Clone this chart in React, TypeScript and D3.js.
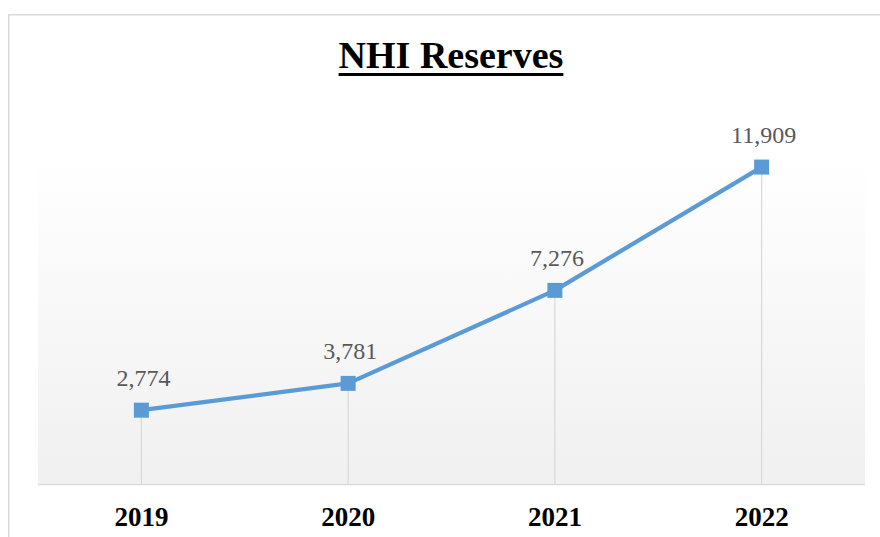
import React, { useLayoutEffect, useRef, useState } from "react";
import * as d3 from "d3";

const categories: string[] = ["2019", "2020", "2021", "2022"];
const reserves: number[] = [2774, 3781, 7276, 11909];
const title = "NHI Reserves";

const W = 880;
const H = 537;
const plot = { left: 38, right: 865, top: 158, bottom: 484 };

export default function App() {
  const titleRef = useRef<SVGTextElement>(null);
  const [ul, setUl] = useState<{ x: number; w: number } | null>(null);
  useLayoutEffect(() => {
    if (titleRef.current) {
      const b = titleRef.current.getBBox();
      setUl({ x: b.x, w: b.width });
    }
  }, []);

  const x = d3
    .scaleBand<string>()
    .domain(categories)
    .range([plot.left, plot.right])
    .padding(0);
  const y = d3.scaleLinear().domain([0, 12250]).range([plot.bottom, plot.top]);
  const cx = (c: string) => (x(c) as number) + x.bandwidth() / 2;
  const pts = categories.map((c, i) => ({ c, v: reserves[i] }));
  const line = d3
    .line<{ c: string; v: number }>()
    .x((d) => cx(d.c))
    .y((d) => y(d.v));
  const fmt = d3.format(",");
  const serif = "'Liberation Serif', 'Times New Roman', serif";
  const ms = 15;

  return (
    <div style={{ position: "fixed", left: 0, top: 0, width: W, height: H, background: "#fff" }}>
      <svg width={W} height={H} style={{ display: "block" }}>
        <defs>
          <linearGradient id="pa" x1="0" y1="0" x2="0" y2="1">
            <stop offset="0" stopColor="#ffffff" />
            <stop offset="1" stopColor="#f0f0f0" />
          </linearGradient>
        </defs>
        <rect x={8.75} y={14.75} width={900} height={560} fill="#fff" stroke="#d9d9d9" strokeWidth={1.5} />
        <rect
          x={plot.left}
          y={plot.top}
          width={plot.right - plot.left}
          height={plot.bottom - plot.top}
          fill="url(#pa)"
        />
        <text
          ref={titleRef}
          x={451}
          y={68}
          textAnchor="middle"
          fontFamily={serif}
          fontWeight="bold"
          fontSize={38}
          fill="#000"
        >
          {title}
        </text>
        {ul && <rect x={ul.x} y={73} width={ul.w} height={3} fill="#000" />}
        {pts.map((d) => (
          <line
            key={"drop" + d.c}
            x1={cx(d.c)}
            x2={cx(d.c)}
            y1={y(d.v)}
            y2={plot.bottom}
            stroke="#d9d9d9"
            strokeWidth={1.25}
          />
        ))}
        <line x1={plot.left} x2={plot.right} y1={plot.bottom + 0.5} y2={plot.bottom + 0.5} stroke="#d9d9d9" strokeWidth={1.25} />
        <path d={line(pts) || ""} fill="none" stroke="#5b9bd5" strokeWidth={4.25} strokeLinejoin="round" strokeLinecap="round" />
        {pts.map((d) => (
          <rect
            key={"m" + d.c}
            x={cx(d.c) - ms / 2}
            y={y(d.v) - ms / 2}
            width={ms}
            height={ms}
            fill="#5b9bd5"
          />
        ))}
        {pts.map((d) => (
          <text
            key={"l" + d.c}
            x={cx(d.c) + 2}
            y={y(d.v) - 24}
            textAnchor="middle"
            fontFamily={serif}
            fontSize={24}
            fill="#595959"
          >
            {fmt(d.v)}
          </text>
        ))}
        {categories.map((c) => (
          <text
            key={"t" + c}
            x={cx(c)}
            y={526}
            textAnchor="middle"
            fontFamily={serif}
            fontWeight="bold"
            fontSize={27}
            fill="#000"
          >
            {c}
          </text>
        ))}
      </svg>
    </div>
  );
}
